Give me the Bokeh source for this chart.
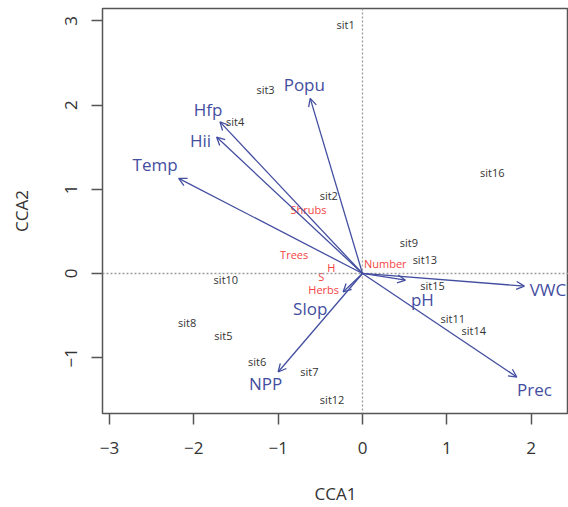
from bokeh.plotting import figure
from bokeh.models import ColumnDataSource, Arrow, OpenHead, Span, Range1d, FixedTicker
from bokeh.core.properties import value
from bokeh.embed import file_html
from bokeh.resources import INLINE

# Site scores (CCA1, CCA2)
site_names = ["sit1", "sit2", "sit3", "sit4", "sit5", "sit6", "sit7", "sit8",
              "sit9", "sit10", "sit11", "sit12", "sit13", "sit14", "sit15", "sit16"]
site_x = [-0.20, -0.40, -1.15, -1.51, -1.65, -1.25, -0.63, -2.08,
          0.55, -1.62, 1.07, -0.36, 0.74, 1.32, 0.83, 1.54]
site_y = [2.96, 0.93, 2.19, 1.81, -0.74, -1.04, -1.17, -0.58,
          0.37, -0.07, -0.54, -1.50, 0.17, -0.68, -0.14, 1.20]

# Response (species) scores
resp_names = ["Shrubs", "Trees", "H", "S", "Herbs", "Number"]
resp_x = [-0.64, -0.81, -0.37, -0.49, -0.46, 0.27]
resp_y = [0.76, 0.23, 0.07, -0.04, -0.19, 0.12]

# Environmental vectors: arrow tips and label positions
env_names = ["Popu", "Hfp", "Hii", "Temp", "Slop", "NPP", "pH", "VWC", "Prec"]
env_x = [-0.62, -1.69, -1.73, -2.18, -0.23, -1.00, 0.51, 1.92, 1.83]
env_y = [2.08, 1.80, 1.62, 1.13, -0.22, -1.17, -0.08, -0.15, -1.23]
env_lab_x = [-0.69, -1.83, -1.92, -2.46, -0.62, -1.15, 0.71, 2.20, 2.04]
env_lab_y = [2.24, 1.95, 1.58, 1.29, -0.42, -1.31, -0.31, -0.19, -1.38]

x_ticks = [-3, -2, -1, 0, 1, 2]
y_ticks = [-1, 0, 1, 2, 3]

FONT = "Open Sans"
BLUE = "#434ea0"
RED = "#f5443f"
INK = "#333333"

p = figure(width=568, height=507, output_backend="svg", toolbar_location=None,
           x_range=Range1d(-3.083, 2.443), y_range=Range1d(-1.663, 3.147),
           min_border_left=102, min_border_right=0, min_border_top=8,
           min_border_bottom=94)
p.background_fill_color = "white"
p.border_fill_color = "white"
p.grid.visible = False
p.outline_line_color = "#555555"
p.outline_line_width = 1.5

for ax in (p.xaxis[0], p.yaxis[0]):
    ax.axis_line_color = None
    ax.major_tick_line_color = "#555555"
    ax.major_tick_line_width = 1.5
    ax.major_tick_in = 0
    ax.major_tick_out = 11
    ax.minor_tick_line_color = None
    ax.major_label_text_font = FONT
    ax.major_label_text_font_size = "17px"
    ax.major_label_text_color = INK
    ax.axis_label_text_font = FONT
    ax.axis_label_text_font_size = "17px"
    ax.axis_label_text_font_style = "normal"
    ax.axis_label_text_color = INK

p.xaxis.ticker = FixedTicker(ticks=x_ticks)
p.yaxis.ticker = FixedTicker(ticks=y_ticks)
p.xaxis.major_label_overrides = {t: str(t).replace("-", "\u2212") for t in x_ticks}
p.yaxis.major_label_overrides = {t: str(t).replace("-", "\u2212") for t in y_ticks}
p.yaxis.major_label_orientation = "vertical"
p.xaxis.major_label_standoff = 17
p.yaxis.major_label_standoff = 14
p.xaxis.axis_label = "CCA1"
p.yaxis.axis_label = "CCA2"
p.xaxis.axis_label_standoff = 25
p.yaxis.axis_label_standoff = 30

# Dotted reference lines through the origin
for dim, loc in (("height", 0), ("width", 0)):
    p.add_layout(Span(location=loc, dimension=dim, line_color="#9a9a9a",
                      line_width=1.3, line_dash="2 2"))

# Environmental arrows
arrows = ColumnDataSource(dict(x0=[0] * len(env_x), y0=[0] * len(env_y), x1=env_x, y1=env_y))
p.add_layout(Arrow(end=OpenHead(size=8, line_color=BLUE, line_width=1.3),
                   x_start="x0", y_start="y0", x_end="x1", y_end="y1",
                   source=arrows, line_color=BLUE, line_width=1.3))

p.text(x=env_lab_x, y=env_lab_y, text=env_names, text_font=value(FONT),
       text_font_size="17px", text_color=BLUE, text_align="center",
       text_baseline="middle")

p.text(x=site_x, y=site_y, text=site_names, text_font=value(FONT),
       text_font_size="11px", text_color=INK, text_align="center",
       text_baseline="middle")

p.text(x=resp_x, y=resp_y, text=resp_names, text_font=value(FONT),
       text_font_size="11px", text_color=RED, text_align="center",
       text_baseline="middle")

open("out.html", "w").write(file_html(p, INLINE))
